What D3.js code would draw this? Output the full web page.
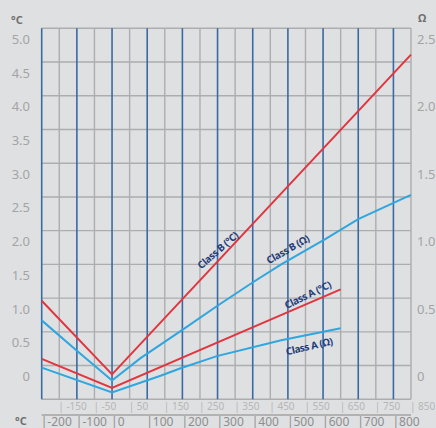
<!DOCTYPE html>
<html>
<head>
<meta charset="utf-8">
<script src="https://cdn.jsdelivr.net/npm/d3@7"></script>
<style>
  html, body { margin: 0; padding: 0; background: #dfe0e2; }
  svg { display: block; }
  text { font-family: "Noto Sans", "Open Sans", sans-serif; }
</style>
</head>
<body>
<div id="chart"></div>
<script>
// ---- data (temperature in °C on x, tolerance on y) ----
const xGridValues = [-200,-150,-100,-50,0,50,100,150,200,250,300,350,400,450,500,550,600,650,700,750,800,850];
const xMajorLabels = [-200,-100,0,100,200,300,400,500,600,700,800];
const xMinorLabels = [-150,-50,50,150,250,350,450,550,650,750,850];
const yGridValues = [-0.5,0,0.5,1,1.5,2,2.5,3,3.5,4,4.5,5];
const yLeftLabels = [0,0.5,1,1.5,2,2.5,3,3.5,4,4.5,5];
const yRightLabels = [0,0.5,1,1.5,2,2.5];

const classBTempX = [-200, 0, 850];
const classBTempY = [0.96, -0.13, 4.61];
const classBOhmX = [-200, -100, 0, 81, 200, 305, 405, 481, 605, 700, 850];
const classBOhmY = [0.67, 0.22, -0.22, 0.11, 0.53, 0.905, 1.25, 1.50, 1.87, 2.17, 2.53];
const classATempX = [-200, 0, 650];
const classATempY = [0.10, -0.33, 1.13];
const classAOhmX = [-200, 0, 138, 195, 298, 481, 650];
const classAOhmY = [-0.03, -0.40, -0.15, -0.04, 0.14, 0.375, 0.553];

const seriesNames = ["Class B (°C)", "Class B (Ω)", "Class A (°C)", "Class A (Ω)"];

// ---- layout ----
const W = 436, H = 428;
const padL = 41.7, padR = 411, padT = 28.3, padB = 399.3;

const svg = d3.select("#chart").append("svg").attr("width", W).attr("height", H);
svg.append("rect").attr("width", W).attr("height", H).attr("fill", "#dfe0e2");

const x = d3.scaleLinear().domain([-200, 850]).range([padL, padR]);
const y = d3.scaleLinear().domain([-0.5, 5]).range([padB, padT]);
const yR = d3.scaleLinear().domain([-0.25, 2.5]).range([padB, padT]);

// horizontal grid
svg.append("g").selectAll("line").data(yGridValues).join("line")
  .attr("x1", padL).attr("x2", padR)
  .attr("y1", d => y(d)).attr("y2", d => y(d))
  .attr("stroke", "#adadad").attr("stroke-width", 1.4);

// vertical grid
svg.append("g").selectAll("line").data(xGridValues).join("line")
  .attr("x1", d => x(d)).attr("x2", d => x(d))
  .attr("y1", padT).attr("y2", padB)
  .attr("stroke", d => (d % 100 === 0) ? "#3a6aa3" : "#adadad")
  .attr("stroke-width", d => (d % 100 === 0) ? 1.6 : 1.4);

// left axis labels
const fmt = d => d === 0 ? "0" : d3.format(".1f")(d);
const gL = svg.append("g").attr("transform", `translate(30,0)`)
  .call(d3.axisLeft(y).tickValues(yLeftLabels).tickFormat(fmt).tickSize(0).tickPadding(0));
gL.select(".domain").remove();
gL.selectAll("text").attr("dy", "15px").attr("fill", "#a4a4a4").attr("font-size", 13).attr("font-family", "Noto Sans");

// right axis labels
const gR = svg.append("g").attr("transform", `translate(417,0)`)
  .call(d3.axisRight(yR).tickValues(yRightLabels).tickFormat(fmt).tickSize(0).tickPadding(0));
gR.select(".domain").remove();
gR.selectAll("text").attr("dy", "15px").attr("fill", "#a4a4a4").attr("font-size", 13).attr("font-family", "Noto Sans");

// unit labels
svg.append("text").attr("x", 11).attr("y", 24).text("°C")
  .attr("fill", "#6f6f6f").attr("font-size", 11).attr("font-weight", "bold");
svg.append("text").attr("x", 418).attr("y", 22).text("Ω")
  .attr("fill", "#6f6f6f").attr("font-size", 11).attr("font-weight", "bold");
svg.append("text").attr("x", 15).attr("y", 425).text("°C")
  .attr("fill", "#6f6f6f").attr("font-size", 11).attr("font-weight", "bold");

// x-axis label rows
svg.append("g").selectAll("text").data(xMinorLabels).join("text")
  .attr("x", d => x(d) - 1).attr("y", 409.5)
  .attr("fill", "#b6b6b6").attr("font-size", 10)
  .text(d => "| " + d);
svg.append("line").attr("x1", padL).attr("x2", padR).attr("y1", 415).attr("y2", 415)
  .attr("stroke", "#b2b2b2").attr("stroke-width", 2);
svg.append("g").selectAll("text").data(xMajorLabels).join("text")
  .attr("x", d => x(d) - 1).attr("y", 425.5)
  .attr("fill", "#8e8e8e").attr("font-size", 12)
  .text(d => "|" + d);

// series lines
const line = d3.line().x(d => x(d[0])).y(d => y(d[1]));
const series = [
  { xs: classBTempX, ys: classBTempY, color: "#e2353f" },
  { xs: classBOhmX,  ys: classBOhmY,  color: "#2fa6df" },
  { xs: classATempX, ys: classATempY, color: "#e2353f" },
  { xs: classAOhmX,  ys: classAOhmY,  color: "#2fa6df" }
];
svg.append("g").selectAll("path").data(series).join("path")
  .attr("d", s => line(s.xs.map((v, i) => [v, s.ys[i]])))
  .attr("fill", "none").attr("stroke", s => s.color).attr("stroke-width", 2);

// series labels (rotated along the lines)
const labelPos = [
  { t: 300, v: 1.713, a: -41 },
  { t: 499, v: 1.728, a: -30 },
  { t: 556, v: 1.054, a: -26 },
  { t: 560, v: 0.29, a: -13 }
];
svg.append("g").selectAll("text").data(seriesNames).join("text")
  .attr("transform", (d, i) => `translate(${x(labelPos[i].t)},${y(labelPos[i].v)}) rotate(${labelPos[i].a})`)
  .attr("text-anchor", "middle")
  .attr("dominant-baseline", "central")
  .attr("fill", "#1f3d7a").attr("font-size", 10).attr("font-weight", "bold")
  .attr("font-family", "Open Sans")
  .attr("letter-spacing", "-0.4px")
  .text(d => d);
</script>
</body>
</html>
